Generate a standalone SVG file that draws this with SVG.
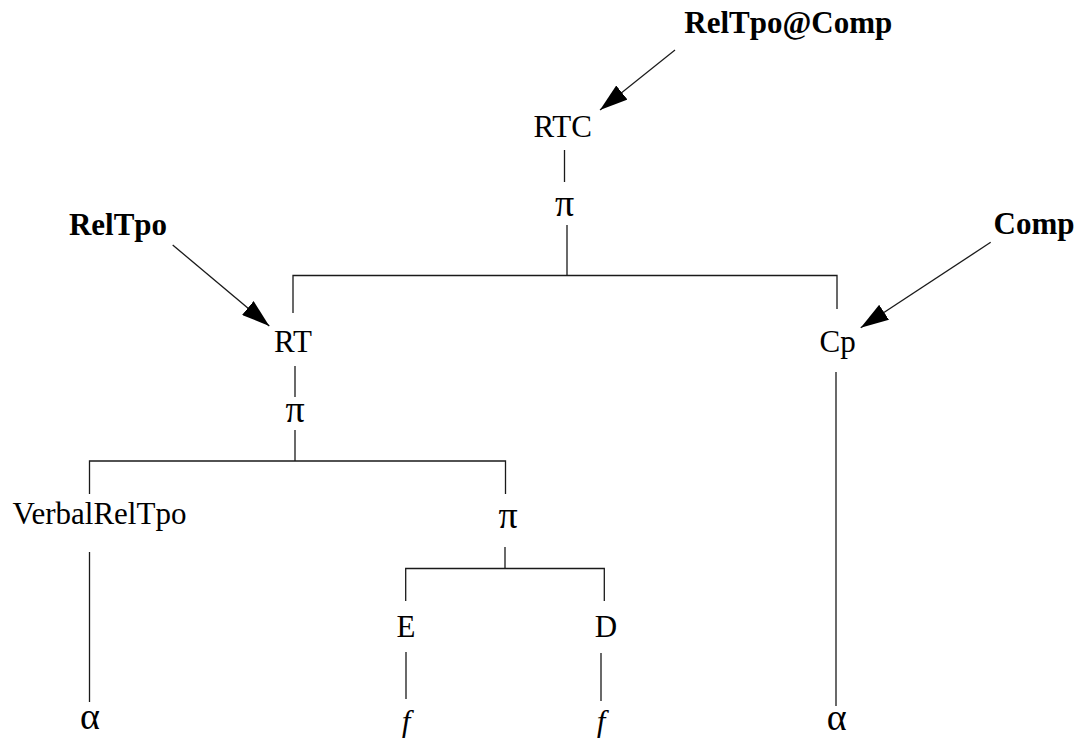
<svg xmlns="http://www.w3.org/2000/svg" width="1083" height="738" viewBox="0 0 1083 738">
  <style>
    .lbl { font-family: "Liberation Serif", "Times New Roman", serif; font-size: 31px; fill: #000; text-anchor: middle; }
    .bold { font-weight: bold; }
    .ital { font-style: italic; }
    .greek { font-size: 38px; }
    .edge { stroke: #1a1a1a; stroke-width: 1.3; fill: none; }
  </style>
  <defs>
    <marker id="arrowhead" viewBox="0 0 28 18" refX="28" refY="9" markerWidth="28" markerHeight="18" markerUnits="userSpaceOnUse" orient="auto">
      <path d="M0,0 L28,9 L0,18 z" fill="#000"/>
    </marker>
  </defs>

  <!-- tree branches and pointer arrows -->
  <g id="connectors">
    <!-- RTC -> pi -> (RT, Cp) -->
    <line class="edge" x1="564.5" y1="150" x2="564.5" y2="182"/>
    <line class="edge" x1="567" y1="225" x2="567" y2="275.5"/>
    <polyline class="edge" points="293,313 293,275.5 837,275.5 837,309"/>
    <!-- RT -> pi -> (VerbalRelTpo, pi) -->
    <line class="edge" x1="295" y1="366" x2="295" y2="397"/>
    <line class="edge" x1="295" y1="430" x2="295" y2="461"/>
    <polyline class="edge" points="89.5,494 89.5,461 505.5,461 505.5,494"/>
    <!-- VerbalRelTpo -> alpha -->
    <line class="edge" x1="89.5" y1="552" x2="89.5" y2="702"/>
    <!-- pi -> (E, D) -->
    <line class="edge" x1="505" y1="547" x2="505" y2="568.5"/>
    <polyline class="edge" points="405.7,601 405.7,568.5 604.3,568.5 604.3,601"/>
    <line class="edge" x1="406" y1="652" x2="406" y2="699"/>
    <line class="edge" x1="601" y1="653" x2="601" y2="701"/>
    <!-- Cp -> alpha -->
    <line class="edge" x1="836" y1="372" x2="836" y2="706"/>
    <!-- pointer arrows -->
    <line class="edge" x1="675" y1="50" x2="600" y2="110" marker-end="url(#arrowhead)"/>
    <line class="edge" x1="172.7" y1="245" x2="269.3" y2="326" marker-end="url(#arrowhead)"/>
    <line class="edge" x1="990.7" y1="242.3" x2="860.7" y2="327.7" marker-end="url(#arrowhead)"/>
  </g>

  <g id="relTpoComp"><text class="lbl bold" x="788.3" y="33">RelTpo@Comp</text></g>
  <g id="rtc"><text class="lbl" x="562.7" y="137">RTC</text></g>
  <g id="pi-top"><text class="lbl greek" x="564.5" y="216">π</text></g>
  <g id="relTpo"><text class="lbl bold" x="118" y="235">RelTpo</text></g>
  <g id="comp"><text class="lbl bold" x="1034" y="234">Comp</text></g>
  <g id="rt"><text class="lbl" x="293" y="352">RT</text></g>
  <g id="cp"><text class="lbl" x="837.7" y="352">Cp</text></g>
  <g id="pi-rt"><text class="lbl greek" x="295" y="422">π</text></g>
  <g id="verbalRelTpo"><text class="lbl" x="12.5" y="524" style="text-anchor:start">VerbalRelTpo</text></g>
  <g id="pi-ed"><text class="lbl greek" x="508" y="528">π</text></g>
  <g id="e"><text class="lbl" x="406" y="637">E</text></g>
  <g id="d"><text class="lbl" x="606" y="637">D</text></g>
  <g id="alpha-left"><text class="lbl greek" x="90" y="729">α</text></g>
  <g id="f-left"><text class="lbl ital" x="406" y="732">f</text></g>
  <g id="f-right"><text class="lbl ital" x="601" y="732">f</text></g>
  <g id="alpha-right"><text class="lbl greek" x="836.7" y="730">α</text></g>
</svg>
